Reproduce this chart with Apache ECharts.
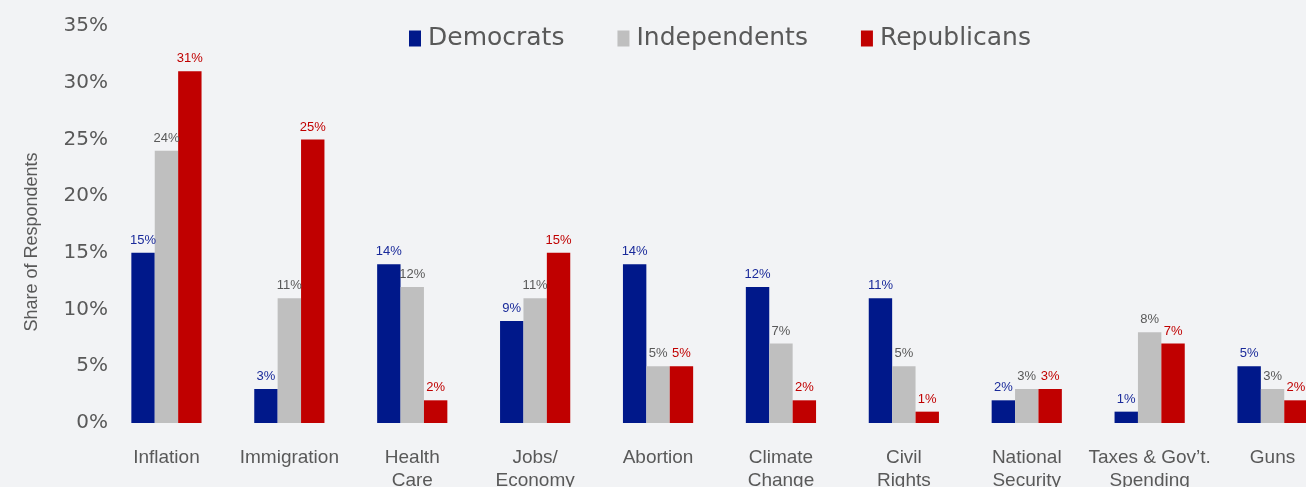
<!DOCTYPE html>
<html>
<head>
<meta charset="utf-8">
<script src="https://cdn.jsdelivr.net/npm/echarts@6/dist/echarts.min.js"></script>
<style>
  html, body { margin: 0; padding: 0; background: #F2F3F5; }
  #main { width: 1306px; height: 487px; }
</style>
</head>
<body>
<div id="main"></div>
<script>
  // categories (two-line labels as in the original)
  var categories = ['Inflation', 'Immigration', 'Health\nCare', 'Jobs/\nEconomy', 'Abortion',
    'Climate\nChange', 'Civil\nRights', 'National\nSecurity', 'Taxes & Gov\u2019t.\nSpending', 'Guns']

  // share of respondents, %
  var democrats = [15, 3, 14, 9, 14, 12, 11, 2, 1, 5]
  var independents = [24, 11, 12, 11, 5, 7, 5, 3, 8, 3]
  var republicans = [31, 25, 2, 15, 5, 2, 1, 3, 7, 2]

  var chart = echarts.init(document.getElementById('main'))

  function barSeries(name, data, color, labelColor) {
    return {
      name: name,
      type: 'bar',
      data: data,
      barWidth: 23.4,
      barGap: 0,
      itemStyle: { color: color },
      label: {
        show: true,
        position: 'top',
        distance: 6,
        formatter: '{c}%',
        color: labelColor,
        fontFamily: 'Liberation Sans, Arial',
        fontSize: 13
      }
    }
  }

  chart.setOption({
    backgroundColor: '#F2F3F5',
    animation: false,
    legend: {
      left: 404,
      top: 21,
      itemWidth: 12,
      itemHeight: 16,
      itemGap: 53,
      icon: 'rect',
      textStyle: {
        fontFamily: 'DejaVu Sans',
        fontSize: 25,
        color: '#595959',
        padding: [0, 0, 0, 2]
      },
      data: ['Democrats', 'Independents', 'Republicans']
    },
    // plot runs past the right edge, as in the original (Guns is cut off)
    grid: { left: 105, top: 26, width: 1229, height: 397, containLabel: false, outerBoundsMode: 'none' },
    xAxis: {
      type: 'category',
      data: categories,
      axisLine: { show: false },
      axisTick: { show: false },
      axisLabel: {
        interval: 0,
        margin: 23,
        fontFamily: 'Liberation Sans, Arial',
        fontSize: 19,
        lineHeight: 23,
        color: '#595959'
      }
    },
    yAxis: {
      type: 'value',
      min: 0,
      max: 35,
      interval: 5,
      name: 'Share of Respondents',
      nameLocation: 'middle',
      nameGap: 64,
      nameTextStyle: {
        fontFamily: 'Liberation Sans, Arial',
        fontSize: 18,
        color: '#595959',
        padding: [0, 35, 0, 0]
      },
      splitLine: { show: false },
      axisLine: { show: false },
      axisTick: { show: false },
      axisLabel: {
        formatter: '{value}%',
        margin: -3,
        fontFamily: 'DejaVu Sans',
        fontSize: 20,
        color: '#595959'
      }
    },
    series: [
      barSeries('Democrats', democrats, '#00188A', '#1A2A9A'),
      barSeries('Independents', independents, '#BFBFBF', '#595959'),
      barSeries('Republicans', republicans, '#C00000', '#C00000')
    ]
  })
</script>
</body>
</html>
